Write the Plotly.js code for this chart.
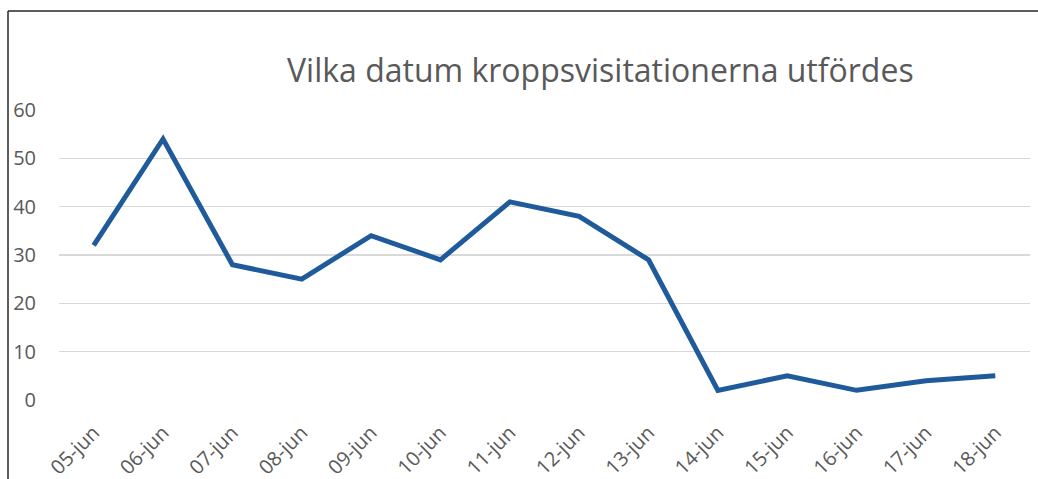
<!DOCTYPE html>
<html>
<head>
<meta charset="utf-8">
<script src="https://cdn.plot.ly/plotly-3.0.1.min.js"></script>
<style>html,body{margin:0;padding:0;background:#fff;}#chart{width:1038px;height:479px;}</style>
</head>
<body>
<div id="chart"></div>
<script>
const dates = ["05-jun","06-jun","07-jun","08-jun","09-jun","10-jun","11-jun","12-jun","13-jun","14-jun","15-jun","16-jun","17-jun","18-jun"];
const counts = [32, 54, 28, 25, 34, 29, 41, 38, 29, 2, 5, 2, 4, 5];
const yTicks = [0, 10, 20, 30, 40, 50, 60];
const chartTitle = "Vilka datum kroppsvisitationerna utfördes";

const L = 59, R = 8, T = 110, B = 79, W = 1038, H = 479;
const pw = W - L - R, ph = H - T - B;
const px = v => (v - L) / pw;
const py = v => (H - B - v) / ph;

const trace = {
  x: dates, y: counts, type: "scatter", mode: "lines",
  line: {color: "#1f5b9b", width: 5, shape: "linear"},
  hoverinfo: "skip"
};

const layout = {
  width: W, height: H,
  margin: {l: L, r: R, t: T, b: B, pad: 0},
  paper_bgcolor: "#fff", plot_bgcolor: "#fff",
  showlegend: false,
  font: {family: "Open Sans, sans-serif", color: "#595959"},
  annotations: [{
    text: chartTitle, showarrow: false,
    font: {family: "Open Sans, sans-serif", size: 32, color: "#595959"},
    xref: "paper", yref: "paper", x: px(600), y: py(70),
    xanchor: "center", yanchor: "middle"
  }],
  xaxis: {
    type: "category", range: [-0.5, dates.length - 0.5],
    showgrid: false, zeroline: false, showline: false,
    ticks: "", tickangle: -45, automargin: false,
    ticklabelstandoff: 16,
    tickfont: {size: 20, color: "#595959"}
  },
  yaxis: {
    range: [0, 60], tickvals: yTicks, ticktext: yTicks.map(String),
    showgrid: true, gridcolor: "#d9d9d9", gridwidth: 1.5,
    zeroline: false, showline: false, ticks: "",
    ticklabelstandoff: 22, automargin: false,
    tickfont: {size: 20, color: "#595959"}
  },
  shapes: [
    {type: "line", xref: "paper", yref: "paper", x0: px(8), x1: px(8), y0: py(H), y1: py(11), line: {color: "#262626", width: 1.5}},
    {type: "line", xref: "paper", yref: "paper", x0: px(8), x1: px(W), y0: py(11), y1: py(11), line: {color: "#262626", width: 1.5}}
  ]
};

Plotly.newPlot("chart", [trace], layout, {displayModeBar: false, staticPlot: true});
</script>
</body>
</html>
